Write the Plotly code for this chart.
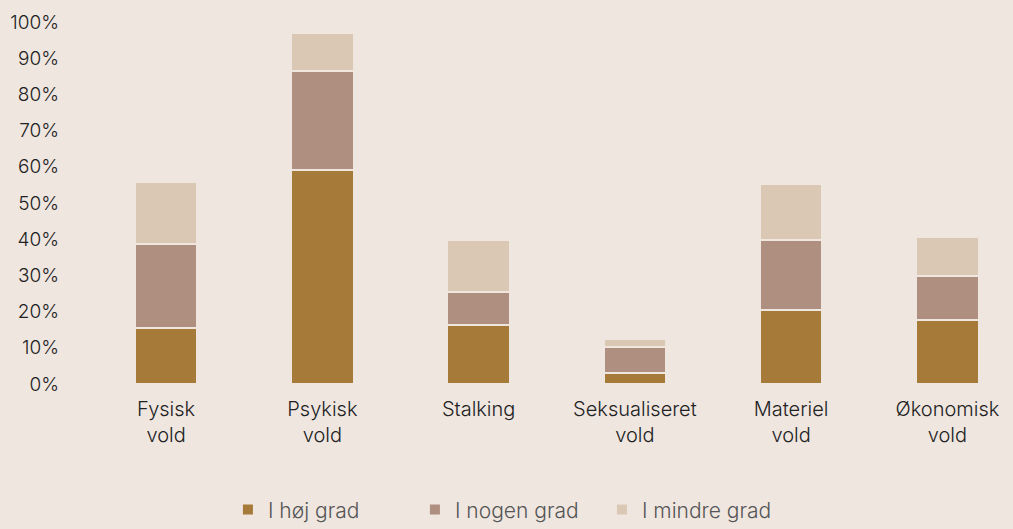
import plotly.graph_objects as go

categories = ["Fysisk<br>vold", "Psykisk<br>vold", "Stalking", "Seksualiseret<br>vold", "Materiel<br>vold", "Økonomisk<br>vold"]
hoej_grad = [15.4, 59.1, 16.3, 3.0, 20.4, 17.7]
nogen_grad = [23.2, 27.4, 9.1, 7.2, 19.4, 12.1]
mindre_grad = [17.1, 10.5, 14.3, 2.2, 15.4, 10.7]
series_names = ["I høj grad", "I nogen grad", "I mindre grad"]
colors = ["#A67A38", "#AF8F7F", "#DBC8B4"]
tick_vals = [0, 10, 20, 30, 40, 50, 60, 70, 80, 90, 100]
tick_text = [f"{v}%" for v in tick_vals]

BG = "#EFE6E0"
FONT = "Inter"

fig = go.Figure()
for name, vals, col in zip(series_names, [hoej_grad, nogen_grad, mindre_grad], colors):
    fig.add_trace(go.Bar(
        x=list(range(len(categories))), y=vals, name=name,
        marker=dict(color=col, line=dict(color=BG, width=2)),
        width=0.4,
    ))

fig.update_layout(
    barmode="stack",
    width=1013, height=529,
    paper_bgcolor=BG, plot_bgcolor=BG,
    margin=dict(l=88, r=0, t=22, b=145, autoexpand=False),
    font=dict(family=FONT, size=19, color="#222222", weight=300),
    xaxis=dict(
        tickmode="array", tickvals=list(range(len(categories))), ticktext=categories,
        range=[-0.5, 5.42], showgrid=False, zeroline=False, showline=False,
        ticks="", ticklabelstandoff=11, automargin=False,
        tickfont=dict(family=FONT, size=20, color="#222222", weight=300),
    ),
    yaxis=dict(
        tickmode="array", tickvals=tick_vals, ticktext=tick_text,
        range=[0, 100], showgrid=False, zeroline=False, showline=False,
        ticks="", ticklabelstandoff=28, automargin=False,
        tickfont=dict(family=FONT, size=19, color="#222222", weight=300),
    ),
    legend=dict(
        orientation="h", xref="container", x=0.225, xanchor="left",
        yref="container", y=0.036, yanchor="middle",
        entrywidth=142, entrywidthmode="pixels",
        font=dict(family=FONT, size=21, color="#555555", weight=300),
        traceorder="normal",
    ),
    showlegend=True,
)

fig.write_html(
    "out.html",
    config={"displayModeBar": False},
    post_script="document.body.style.margin='0';document.body.style.overflow='hidden';",
)
